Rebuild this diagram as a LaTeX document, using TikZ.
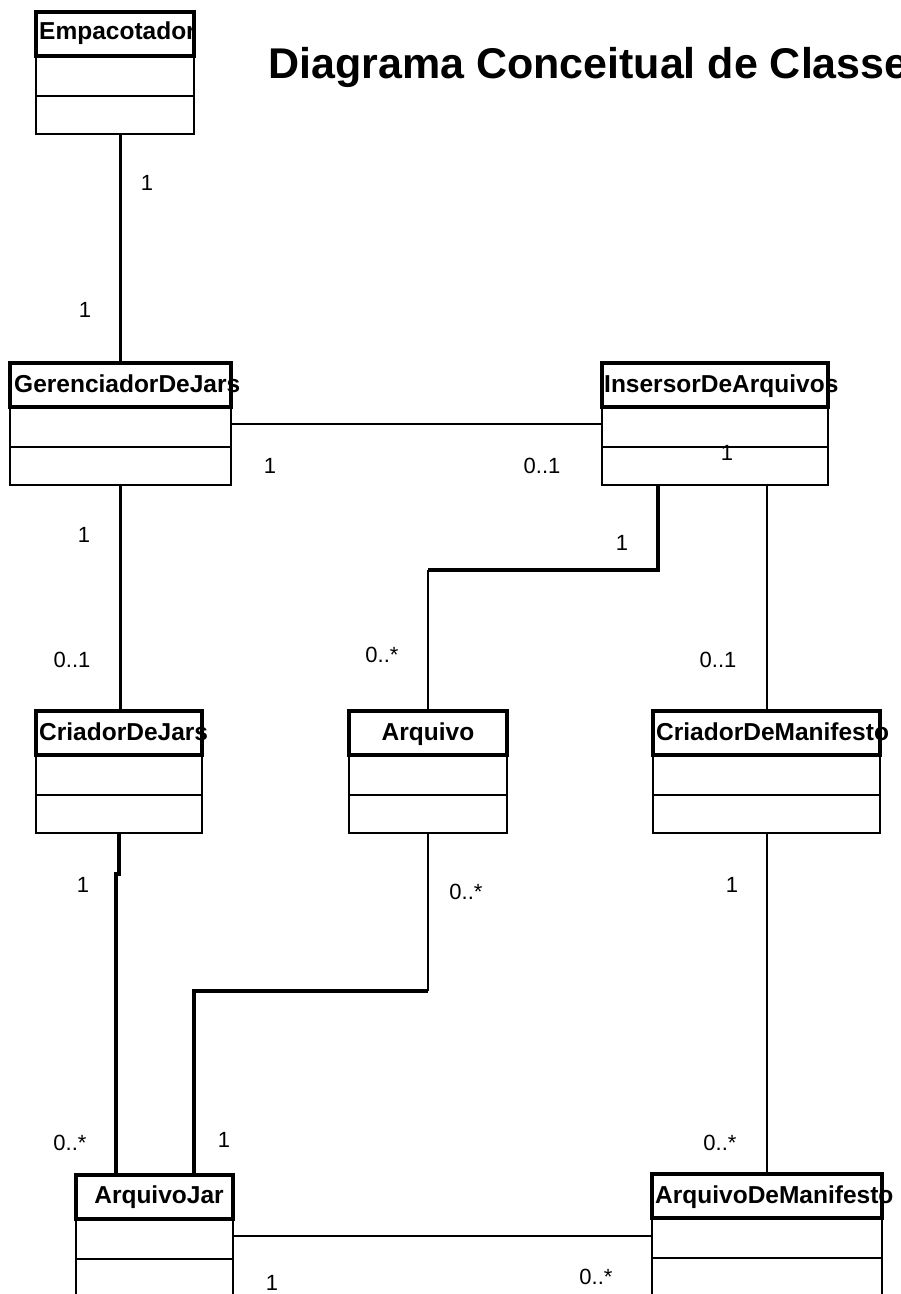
\documentclass[tikz,border=0pt]{standalone}
\usepackage{fontspec}
\setmainfont{Liberation Sans}
\usetikzlibrary{calc}

% A UML class box: name, left, top, right (page units, y grows downward)
\newcommand{\umlclass}[4]{%
  \node[classbody, minimum width={#4-#2}, anchor=north west] (#1) at (#2,#3) {};
  \draw[headerbox] (#1.north west) rectangle ([yshift=-44pt]#1.north east);
  \draw[compline] ([yshift=-84pt]#1.north west) -- ([yshift=-84pt]#1.north east);
}

\begin{document}
\begin{tikzpicture}[x=1pt, y=-1pt,
  classbody/.style={draw, fill=white, line width=2pt, inner sep=0pt, outer sep=0pt, minimum height=122pt},
  headerbox/.style={line width=3.6pt},
  compline/.style={line width=2pt},
  classname/.style={inner sep=0pt, font=\fontsize{24.5}{29}\selectfont\bfseries},
  mult/.style={inner sep=0pt, font=\fontsize{22}{26}\selectfont},
  boldlink/.style={line width=3.4pt},
  thinlink/.style={line width=2pt},
]
\useasboundingbox (0,0) rectangle (901,1294);
\clip (0,0) rectangle (901,1294);

% title
\node[anchor=base west, inner sep=0pt, font=\fontsize{43}{50}\selectfont\bfseries] (title) at (268,78) {Diagrama Conceitual de Classes};

% classes
\umlclass{empac}{36}{12}{194}
\node[classname, anchor=base west] (empac-t) at (39,39) {Empacotador};

\umlclass{ger}{10}{363}{231}
\node[classname, anchor=base west] (ger-t) at (14,392) {GerenciadorDeJars};

\umlclass{ins}{602}{363}{828}
\node[classname, anchor=base west] (ins-t) at (604,392) {InsersorDeArquivos};

\umlclass{crjars}{36}{711}{202}
\node[classname, anchor=base west] (crjars-t) at (39,740) {CriadorDeJars};

\umlclass{arq}{349}{711}{507}
\node[classname, anchor=base] (arq-t) at (428,740) {Arquivo};

\umlclass{crman}{653}{711}{880}
\node[classname, anchor=base west] (crman-t) at (656,740) {CriadorDeManifesto};

\umlclass{arqjar}{76}{1175}{233}
\node[classname, anchor=base] (arqjar-t) at (159,1203) {ArquivoJar};

\umlclass{arqman}{652}{1174}{882}
\node[classname, anchor=base west] (arqman-t) at (655,1203) {ArquivoDeManifesto};

% bend points of the routed associations
\coordinate (ia1) at (658,570);
\coordinate (ia2) at (428,570);
\coordinate (cj1) at (116,874);
\coordinate (aj1) at (428,991);
\coordinate (aj2) at (194,991);

% associations
\draw[boldlink] (empac.south -| ger.north) -- (ger.north);
\draw[boldlink] (ger.south) -- (ger.south |- crjars.north);
\draw[thinlink] (ger.east) -- (ger.east -| ins.west);
\draw[boldlink] (ins.south -| ia1) -- (ia1) -- (ia2);
\draw[thinlink] (ia2) -- (arq.north);
\draw[thinlink] (ins.south -| crman.north) -- (crman.north);
\draw[boldlink] (crjars.south) |- (cj1) -- (cj1 |- arqjar.north);
\draw[thinlink] (arq.south) -- (aj1);
\draw[boldlink] (aj1) -- (aj2) -- (aj2 |- arqjar.north);
\draw[thinlink] (crman.south) -- (crman.south |- arqman.north);
\draw[thinlink] (arqjar.east) -- (arqjar.east -| arqman.west);

% multiplicities
\node[mult] (m1) at (147,183) {1};
\node[mult] (m2) at (85,310) {1};
\node[mult] (m3) at (270,466) {1};
\node[mult] (m4) at (542,466) {0..1};
\node[mult] (m5) at (727,453) {1};
\node[mult] (m6) at (84,535) {1};
\node[mult] (m7) at (72,660) {0..1};
\node[mult] (m8) at (622,543) {1};
\node[mult] (m9) at (382,655) {0..*};
\node[mult] (m10) at (718,660) {0..1};
\node[mult] (m11) at (83,885) {1};
\node[mult] (m12) at (466,892) {0..*};
\node[mult] (m13) at (732,885) {1};
\node[mult] (m14) at (70,1143) {0..*};
\node[mult] (m15) at (224,1140) {1};
\node[mult] (m16) at (720,1143) {0..*};
\node[mult] (m17) at (272,1283) {1};
\node[mult] (m18) at (596,1277) {0..*};
\end{tikzpicture}
\end{document}
